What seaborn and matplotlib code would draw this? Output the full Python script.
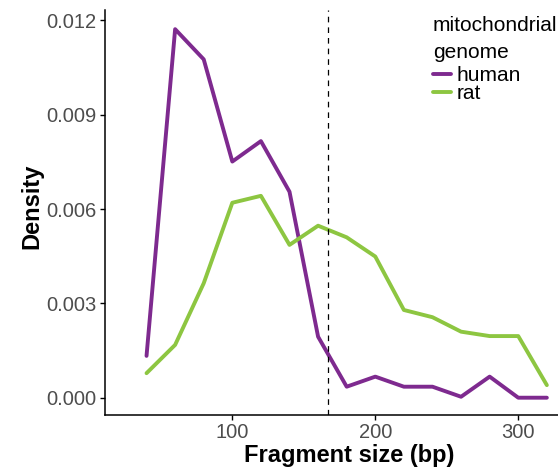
import matplotlib
matplotlib.use("Agg")
import matplotlib.pyplot as plt
import seaborn as sns
import pandas as pd

# Fragment-size density per mitochondrial genome (20 bp bins)
sizes = [40, 60, 80, 100, 120, 140, 160, 180, 200, 220, 240, 260, 280, 300, 320]
human = [0.00133, 0.01172, 0.01076, 0.00751, 0.00816, 0.00655, 0.00194, 0.00035,
         0.00067, 0.00035, 0.00035, 0.00003, 0.00067, 0.0, 0.0]
rat = [0.00078, 0.00168, 0.00364, 0.00620, 0.00642, 0.00486, 0.00547, 0.00510,
       0.00449, 0.00279, 0.00256, 0.00210, 0.00196, 0.00196, 0.00040]
genomes = ["human", "rat"]
palette = {"human": "#7E2A8F", "rat": "#8DC641"}
cutoff = 167
y_ticks = [0.000, 0.003, 0.006, 0.009, 0.012]
x_ticks = [100, 200, 300]

df = pd.DataFrame({
    "size": sizes * 2,
    "density": human + rat,
    "genome": ["human"] * len(sizes) + ["rat"] * len(sizes),
})

sns.set_theme(style="ticks")
plt.rcParams["font.family"] = ["Liberation Sans", "DejaVu Sans"]

fig = plt.figure(figsize=(5.58, 4.68), dpi=100)
ax = fig.add_axes([104.5 / 558, 53 / 468, (558 - 104.5) / 558, (415 - 10) / 468])

sns.lineplot(data=df, x="size", y="density", hue="genome", hue_order=genomes,
             palette=palette, linewidth=2.8, ax=ax, legend=True)
ax.axvline(cutoff, color="black", linewidth=0.9, linestyle=(0, (4.5, 4)))

ax.set_xlim(10.6, 327.8)
ax.set_ylim(-0.00055, 0.01233)
ax.set_xticks(x_ticks)
ax.set_yticks(y_ticks)
ax.set_yticklabels([f"{v:.3f}" for v in y_ticks])
ax.set_xlabel("Fragment size (bp)", fontsize=17, fontweight="bold", color="black",
              labelpad=2)
ax.set_ylabel("Density", fontsize=17, fontweight="bold", color="black", labelpad=2.5)
ax.xaxis.label.set_x(0.540)
ax.yaxis.label.set_y(0.515)
ax.tick_params(axis="both", labelsize=14.5, labelcolor="#4D4D4D", color="black",
               length=3.5, width=1, pad=2)
for side in ("top", "right"):
    ax.spines[side].set_visible(False)
for side in ("left", "bottom"):
    ax.spines[side].set_color("black")
    ax.spines[side].set_linewidth(1.1)

handles, labels = ax.get_legend_handles_labels()
leg = ax.legend(handles, labels, title="mitochondrial\ngenome", loc="upper left",
                bbox_to_anchor=(0.724, 0.985), frameon=False, fontsize=15,
                title_fontsize=15, handlelength=0.85, handletextpad=0.3,
                labelspacing=-0.05, borderaxespad=0.0, borderpad=0.0)
leg._legend_box.align = "left"
leg._legend_box.sep = 3.5
leg.get_title().set_linespacing(1.5)
leg.get_title().set_color("black")
for t in leg.get_texts():
    t.set_color("black")

fig.savefig("out.png", dpi=100)
